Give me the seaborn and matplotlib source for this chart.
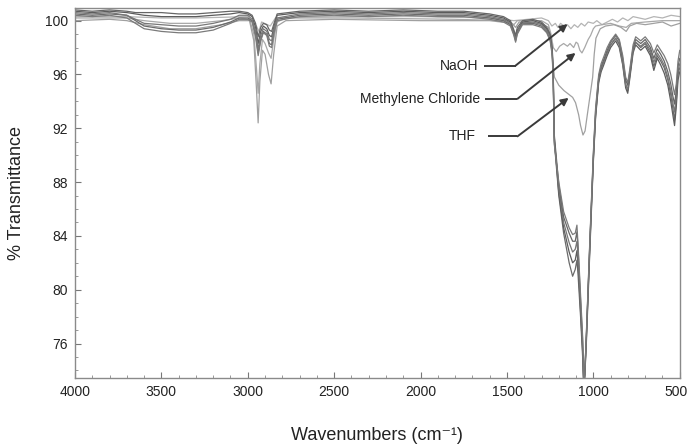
import numpy as np
import pandas as pd
import matplotlib
matplotlib.use("Agg")
import matplotlib.pyplot as plt
from matplotlib.ticker import MultipleLocator
from matplotlib.transforms import ScaledTranslation
import seaborn as sns

# ---------------- data ----------------
WN_DARK = [4000, 3900, 3800, 3700, 3650, 3600, 3500, 3400, 3300, 3200,
           3100, 3050, 3000, 2975, 2955, 2940, 2925, 2910, 2890, 2875,
           2862, 2848, 2830, 2700, 2500, 2300, 2100, 1900, 1750, 1600,
           1520, 1480, 1460, 1450, 1440, 1410, 1350, 1300, 1270, 1250,
           1238, 1232, 1226, 1200, 1172, 1140, 1120, 1105, 1095, 1088,
           1074, 1062, 1056, 1050, 1040, 1020, 1000, 987, 969, 955,
           940, 920, 900, 871, 850, 830, 813, 801, 790, 770,
           755, 726, 700, 670, 650, 630, 610, 590, 569, 552,
           540, 530, 520, 510, 500]

D1 = [100.5, 100.4, 100.5, 100.4, 100.0, 99.6, 99.4, 99.3, 99.3, 99.5,
      99.9, 100.2, 100.2, 100.0, 99.0, 97.6, 98.6, 99.2, 99.0, 98.3,
      98.2, 99.2, 100.1, 100.4, 100.5, 100.4, 100.5, 100.4, 100.4, 100.2,
      100.0, 99.7, 99.0, 98.5, 99.1, 99.8, 99.8, 99.6, 99.2, 98.6,
      97.6, 95.5, 91.0, 87.0, 84.2, 82.0, 81.0, 81.5, 82.2, 81.0,
      78.0, 75.0, 72.8, 73.5, 76.5, 83.5, 89.8, 93.0, 95.6, 96.4,
      96.9, 97.6, 98.2, 98.7, 98.3, 97.0, 95.3, 94.8, 95.8, 97.8,
      98.4, 98.0, 98.3, 97.6, 96.6, 97.4, 97.0, 96.5, 95.6, 94.5,
      93.5, 92.6, 94.0, 96.0, 96.5]
D2 = [100.7, 100.6, 100.7, 100.6, 100.5, 100.4, 100.3, 100.3, 100.3, 100.4,
      100.5, 100.6, 100.5, 100.3, 99.5, 98.3, 99.2, 99.6, 99.4, 98.9,
      98.8, 99.6, 100.4, 100.6, 100.7, 100.6, 100.7, 100.6, 100.6, 100.4,
      100.2, 99.9, 99.2, 98.7, 99.3, 99.9, 100.0, 99.8, 99.4, 98.9,
      97.9, 95.8, 91.3, 87.2, 84.6, 82.8, 82.0, 82.2, 82.9, 81.8,
      78.4, 75.4, 73.0, 73.4, 76.2, 83.0, 89.5, 92.8, 95.4, 96.2,
      96.7, 97.4, 98.0, 98.5, 98.0, 96.7, 95.0, 94.6, 95.6, 97.6,
      98.2, 97.8, 98.1, 97.4, 96.3, 97.2, 96.7, 96.1, 95.2, 94.0,
      93.0, 92.2, 93.6, 95.6, 96.2]
D3 = [100.6, 100.5, 100.6, 100.4, 100.1, 99.8, 99.7, 99.6, 99.6, 99.8,
      100.1, 100.4, 100.4, 100.1, 99.2, 97.9, 98.9, 99.4, 99.2, 98.6,
      98.5, 99.4, 100.2, 100.5, 100.6, 100.5, 100.6, 100.5, 100.5, 100.3,
      100.1, 99.8, 99.1, 98.6, 99.2, 99.8, 99.9, 99.7, 99.3, 98.8,
      97.7, 95.6, 91.1, 87.5, 85.0, 83.5, 82.8, 83.0, 83.6, 82.4,
      78.8, 75.8, 73.2, 73.6, 76.6, 83.3, 89.7, 93.0, 95.6, 96.4,
      96.9, 97.6, 98.2, 98.7, 98.2, 96.8, 95.2, 94.9, 95.9, 97.8,
      98.4, 98.1, 98.4, 97.8, 96.9, 97.6, 97.2, 96.7, 95.8, 94.8,
      93.9, 93.2, 94.4, 96.2, 96.8]
D4 = [100.8, 100.7, 100.8, 100.7, 100.6, 100.6, 100.6, 100.5, 100.5, 100.6,
      100.7, 100.7, 100.6, 100.4, 99.8, 98.8, 99.5, 99.8, 99.7, 99.3,
      99.2, 99.8, 100.5, 100.7, 100.8, 100.7, 100.8, 100.7, 100.7, 100.5,
      100.3, 100.0, 99.3, 98.9, 99.5, 100.0, 100.1, 99.9, 99.5, 99.0,
      98.0, 96.0, 91.5, 87.8, 85.4, 84.2, 83.6, 83.6, 84.3, 83.0,
      79.2, 76.2, 73.4, 73.7, 76.8, 83.6, 90.0, 93.3, 95.8, 96.6,
      97.1, 97.8, 98.4, 98.9, 98.5, 97.2, 95.6, 95.2, 96.1, 98.0,
      98.6, 98.3, 98.6, 98.0, 97.2, 97.9, 97.5, 97.0, 96.2, 95.3,
      94.4, 93.8, 94.8, 96.6, 97.2]
D5 = [100.4, 100.3, 100.4, 100.2, 99.8, 99.4, 99.2, 99.1, 99.1, 99.3,
      99.8, 100.1, 100.1, 99.9, 98.8, 97.4, 98.5, 99.1, 98.9, 98.1,
      98.0, 99.1, 100.0, 100.3, 100.4, 100.3, 100.4, 100.3, 100.3, 100.1,
      99.9, 99.6, 98.9, 98.4, 99.0, 99.7, 99.7, 99.5, 99.1, 98.5,
      97.4, 95.3, 90.8, 88.0, 85.8, 84.6, 84.1, 84.2, 84.8, 83.2,
      79.6, 76.5, 73.3, 73.6, 76.9, 83.8, 90.2, 93.5, 96.0, 96.8,
      97.3, 98.0, 98.5, 99.0, 98.6, 97.4, 95.8, 95.4, 96.3, 98.2,
      98.8, 98.5, 98.8, 98.3, 97.6, 98.2, 97.8, 97.4, 96.8, 96.0,
      95.2, 94.5, 95.3, 97.0, 97.8]

WN_THF = [4000, 3800, 3700, 3600, 3450, 3300, 3150, 3050, 2990, 2965,
          2950, 2940, 2930, 2915, 2900, 2880, 2865, 2850, 2830, 2780,
          2500, 2000, 1600, 1470, 1450, 1430, 1300, 1260, 1245, 1235,
          1225, 1200, 1170, 1140, 1120, 1103, 1085, 1074, 1060, 1048,
          1035, 1015, 1004, 995, 985, 960, 930, 880, 840, 810,
          790, 750, 700, 650, 600, 550, 500]
T_THF = [100.0, 100.1, 100.0, 99.7, 99.4, 99.4, 99.7, 100.0, 100.0, 98.5,
         95.0, 92.4, 95.5, 97.8, 97.5, 96.0, 95.3, 97.5, 99.6, 100.0,
         100.1, 100.0, 100.0, 99.8, 99.5, 99.9, 99.8, 99.5, 98.5, 97.0,
         95.8, 95.2, 94.8, 94.5, 94.3, 93.9, 93.0, 92.2, 91.5, 91.8,
         93.0, 94.8, 95.8, 97.5, 98.7, 99.4, 99.6, 99.7, 99.5, 99.2,
         99.6, 99.8, 99.7, 99.8, 99.9, 99.6, 99.8]

WN_MC = [4000, 3700, 3600, 3450, 3300, 3150, 3050, 2990, 2965, 2950,
         2940, 2930, 2915, 2900, 2880, 2865, 2850, 2830, 2780, 2400,
         1800, 1500, 1460, 1440, 1300, 1260, 1245, 1232, 1215, 1195,
         1172, 1150, 1135, 1114, 1100, 1090, 1078, 1066, 1050, 1030,
         1016, 1000, 987, 950, 900, 850, 810, 780, 700, 600,
         500]
T_MC = [100.2, 100.2, 100.0, 99.8, 99.8, 100.0, 100.2, 100.1, 99.0, 96.5,
        94.6, 96.8, 98.6, 98.3, 97.6, 97.2, 98.6, 99.9, 100.2, 100.2,
        100.1, 100.0, 99.7, 100.0, 100.0, 99.7, 99.0, 98.0, 97.7, 98.1,
        98.3, 98.1, 98.3, 98.0, 98.4, 98.3, 97.8, 97.6, 98.0, 98.6,
        98.9, 99.4, 99.6, 99.7, 99.8, 99.6, 99.5, 99.8, 99.9, 100.0,
        100.0]

WN_NAOH = [4000, 3700, 3500, 3300, 3000, 2950, 2935, 2920, 2870, 2840,
           2500, 2000, 1600, 1460, 1300, 1260, 1240, 1220, 1205, 1190,
           1170, 1150, 1130, 1110, 1090, 1070, 1050, 1030, 1000, 980,
           950, 920, 890, 860, 830, 800, 770, 700, 650, 600,
           550, 500]
T_NAOH = [100.3, 100.3, 100.2, 100.2, 100.3, 99.6, 99.2, 99.9, 99.6, 100.2,
          100.3, 100.3, 100.2, 100.0, 100.2, 100.0, 99.6, 99.8, 99.5, 99.8,
          99.6, 99.7, 99.4, 99.7, 99.5, 99.8, 99.6, 99.9, 99.8, 100.0,
          99.7, 99.9, 100.1, 99.9, 100.2, 100.0, 100.3, 100.1, 100.3, 100.2,
          100.4, 100.3]

X_TICKS = [4000, 3500, 3000, 2500, 2000, 1500, 1000, 500]
Y_TICKS = [76, 80, 84, 88, 92, 96, 100]

# ---------------- build table ----------------
frames = []
series = [("NaOH", WN_NAOH, T_NAOH), ("Methylene Chloride", WN_MC, T_MC),
          ("THF", WN_THF, T_THF),
          ("S1", WN_DARK, D1), ("S2", WN_DARK, D2), ("S3", WN_DARK, D3),
          ("S4", WN_DARK, D4), ("S5", WN_DARK, D5)]
for name, x, y in series:
    frames.append(pd.DataFrame({"series": name, "wn": x, "T": y}))
df = pd.concat(frames, ignore_index=True)

palette = {"NaOH": "#b4b4b4", "Methylene Chloride": "#a8a8a8", "THF": "#a0a0a0",
           "S1": "#6a6a6a", "S2": "#5c5c5c", "S3": "#777777",
           "S4": "#666666", "S5": "#7a7a7a"}

sns.set_theme(style="ticks")
plt.rcParams["font.family"] = ["Liberation Sans", "DejaVu Sans"]

fig = plt.figure(figsize=(6.88, 4.45), dpi=100)
ax = fig.add_axes([0.109, 0.151, 0.879, 0.831])

sns.lineplot(data=df, x="wn", y="T", hue="series", palette=palette,
             estimator=None, sort=False, legend=False, linewidth=0.9, ax=ax)

ax.set_xlim(4000, 500)
ax.set_ylim(73.45, 100.94)
ax.set_xticks(X_TICKS)
ax.set_yticks(Y_TICKS)
ax.xaxis.set_minor_locator(MultipleLocator(100))
ax.yaxis.set_minor_locator(MultipleLocator(1))
ax.tick_params(which="major", direction="in", length=4, width=0.8,
               color="#777777", labelsize=10, labelcolor="#222222", pad=5)
ax.tick_params(which="minor", direction="in", length=2, width=0.6, color="#888888")
for s in ax.spines.values():
    s.set_color("#8a8a8a")
    s.set_linewidth(1.0)

# keep the last x tick label inside the figure
last = ax.get_xticklabels()[-1]
last.set_horizontalalignment("right")
last.set_transform(last.get_transform() + ScaledTranslation(8 / 100, 0, fig.dpi_scale_trans))

ax.set_xlabel("Wavenumbers (cm\u207b\u00b9)", fontsize=13, labelpad=20, color="#222222")
ax.set_ylabel("% Transmittance", fontsize=13, labelpad=14, color="#222222")

# annotations
notes = [("NaOH", 96.66, 1665, 1630, 1450, (1149, 99.75)),
         ("Methylene Chloride", 94.19, 1653, 1625, 1439, (1103, 97.6)),
         ("THF", 91.4, 1682, 1612, 1439, (1143, 94.26))]
for label, yv, xt, xs, xe, tip in notes:
    ax.text(xt, yv, label, ha="right", va="center", fontsize=10, color="#222222")
    ax.plot([xs, xe], [yv, yv], color="#3a3a3a", lw=1.4, solid_capstyle="butt")
    ax.annotate("", xy=tip, xytext=(xe, yv),
                arrowprops=dict(arrowstyle="-|>", color="#3a3a3a", lw=1.4,
                                mutation_scale=11, shrinkA=0, shrinkB=0))

fig.savefig("out.png", dpi=100)
